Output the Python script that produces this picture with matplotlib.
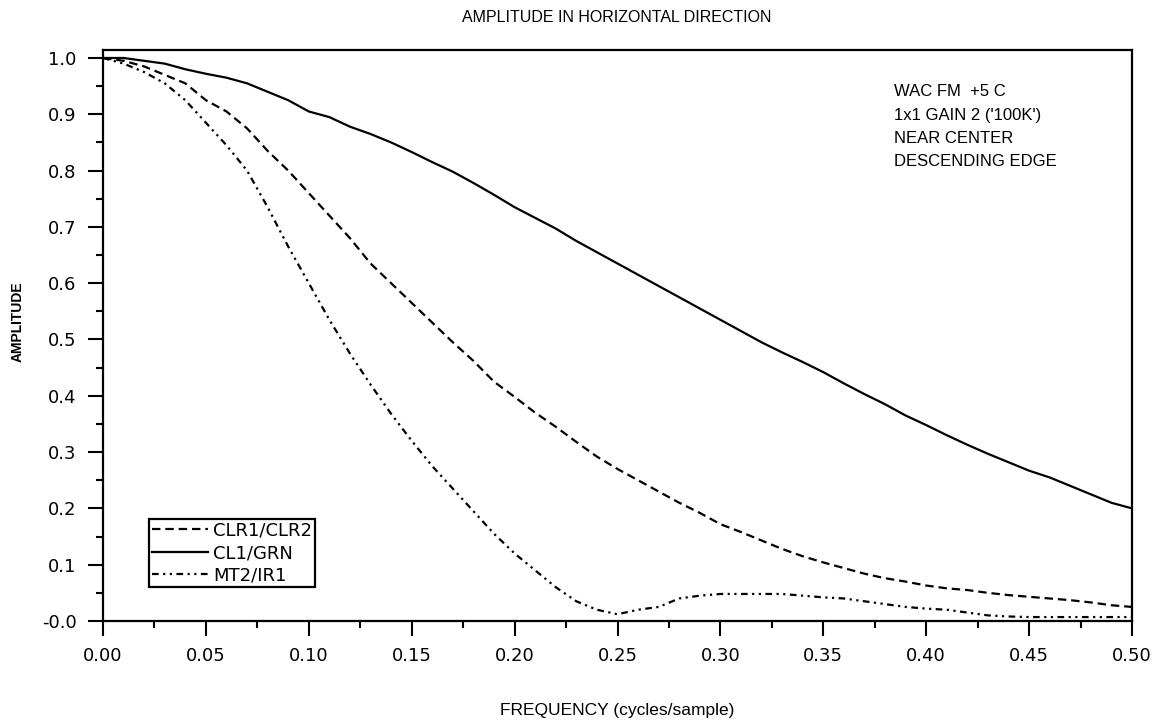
import matplotlib
matplotlib.use("Agg")
import matplotlib.pyplot as plt
from matplotlib import font_manager
from matplotlib.ticker import MultipleLocator

# frequency samples (cycles/sample)
freq = [0.00, 0.01, 0.02, 0.03, 0.04, 0.05, 0.06, 0.07, 0.08, 0.09,
        0.10, 0.11, 0.12, 0.13, 0.14, 0.15, 0.16, 0.17, 0.18, 0.19,
        0.20, 0.21, 0.22, 0.23, 0.24, 0.25, 0.26, 0.27, 0.28, 0.29,
        0.30, 0.31, 0.32, 0.33, 0.34, 0.35, 0.36, 0.37, 0.38, 0.39,
        0.40, 0.41, 0.42, 0.43, 0.44, 0.45, 0.46, 0.47, 0.48, 0.49, 0.50]

clr1_clr2 = [1.000, 0.995, 0.985, 0.970, 0.955, 0.925, 0.905, 0.875, 0.835, 0.800,
             0.760, 0.720, 0.680, 0.635, 0.600, 0.565, 0.530, 0.495, 0.462, 0.425,
             0.398, 0.370, 0.345, 0.318, 0.292, 0.270, 0.250, 0.230, 0.210, 0.192,
             0.172, 0.158, 0.143, 0.128, 0.115, 0.104, 0.094, 0.084, 0.076, 0.070,
             0.063, 0.058, 0.055, 0.050, 0.046, 0.043, 0.040, 0.037, 0.033, 0.028, 0.025]

cl1_grn = [1.000, 1.000, 0.995, 0.990, 0.980, 0.972, 0.965, 0.955, 0.940, 0.925,
           0.905, 0.895, 0.878, 0.865, 0.850, 0.833, 0.815, 0.798, 0.778, 0.757,
           0.735, 0.716, 0.697, 0.675, 0.655, 0.635, 0.615, 0.595, 0.575, 0.555,
           0.535, 0.515, 0.495, 0.477, 0.460, 0.442, 0.422, 0.403, 0.385, 0.365,
           0.348, 0.330, 0.313, 0.297, 0.282, 0.267, 0.255, 0.240, 0.225, 0.210, 0.200]

mt2_ir1 = [1.000, 0.990, 0.975, 0.955, 0.925, 0.885, 0.845, 0.800, 0.735, 0.665,
           0.600, 0.535, 0.475, 0.420, 0.368, 0.320, 0.275, 0.235, 0.195, 0.155,
           0.120, 0.090, 0.060, 0.035, 0.020, 0.012, 0.020, 0.025, 0.040, 0.045,
           0.048, 0.048, 0.048, 0.048, 0.045, 0.042, 0.040, 0.035, 0.030, 0.025,
           0.022, 0.020, 0.015, 0.010, 0.008, 0.007, 0.007, 0.007, 0.007, 0.007, 0.007]

y_ticks = [0.0, 0.1, 0.2, 0.3, 0.4, 0.5, 0.6, 0.7, 0.8, 0.9, 1.0]
y_labels = ["-0.0", "0.1", "0.2", "0.3", "0.4", "0.5", "0.6", "0.7", "0.8", "0.9", "1.0"]
x_ticks = [0.00, 0.05, 0.10, 0.15, 0.20, 0.25, 0.30, 0.35, 0.40, 0.45, 0.50]
x_labels = ["0.00", "0.05", "0.10", "0.15", "0.20", "0.25", "0.30", "0.35", "0.40", "0.45", "0.50"]

notes = "WAC FM  +5 C\n1x1 GAIN 2 ('100K')\nNEAR CENTER\nDESCENDING EDGE"

# condensed face for title / y label if one is installed
installed = {f.name for f in font_manager.fontManager.ttflist}
narrow = "Liberation Sans"
for name in ["Liberation Sans Narrow", "DejaVu Sans Condensed"]:
    if name in installed:
        narrow = name
        break
title_size = 14 if narrow != "Liberation Sans" else 11.5
ylab_size = 12 if narrow != "Liberation Sans" else 10

W, H = 1156, 725
fig = plt.figure(figsize=(W / 100, H / 100), dpi=100)
ax = fig.add_axes([103 / W, 1 - 621 / H, (1132 - 103) / W, (621 - 50) / H])

ax.plot(freq, clr1_clr2, color="black", lw=1.6, linestyle=(0, (3.8, 2.2)), label="CLR1/CLR2")
ax.plot(freq, cl1_grn, color="black", lw=1.6, label="CL1/GRN")
ax.plot(freq, mt2_ir1, color="black", lw=1.6, linestyle=(0, (3, 2, 1, 2, 1, 2)), label="MT2/IR1")

ax.set_xlim(0, 0.5)
ax.set_ylim(0, 1.0142)
ax.set_xticks(x_ticks)
ax.set_xticklabels(x_labels)
ax.set_yticks(y_ticks)
ax.set_yticklabels(y_labels)
ax.xaxis.set_minor_locator(MultipleLocator(0.025))
ax.yaxis.set_minor_locator(MultipleLocator(0.05))
ax.tick_params(which="major", direction="out", length=11, width=1.5, pad=8, labelsize=13)
ax.tick_params(which="minor", direction="out", length=5, width=1.5)
for s in ax.spines.values():
    s.set_linewidth(1.6)

ax.text(0.769, 0.940, notes, transform=ax.transAxes, ha="left", va="top",
        fontsize=12, family="Liberation Sans", linespacing=1.7)

leg = ax.legend(loc="upper left", bbox_to_anchor=(0.0447, 0.1786), borderaxespad=0,
                fancybox=False, framealpha=1, edgecolor="black", fontsize=13,
                handlelength=3.1, handletextpad=0.3, labelspacing=0.25, borderpad=0.15)
leg.get_frame().set_linewidth(1.6)

fig.text(617 / W, 1 - 18 / H, "AMPLITUDE IN HORIZONTAL DIRECTION", ha="center", va="center",
         fontsize=title_size, family=narrow)
fig.text(617 / W, 1 - 711 / H, "FREQUENCY (cycles/sample)", ha="center", va="center",
         fontsize=12.5, family="Liberation Sans")
fig.text(18 / W, 1 - 322 / H, "AMPLITUDE", ha="center", va="center", rotation=90,
         fontsize=ylab_size, fontweight="bold", family=narrow)

fig.savefig("out.png", dpi=100)
